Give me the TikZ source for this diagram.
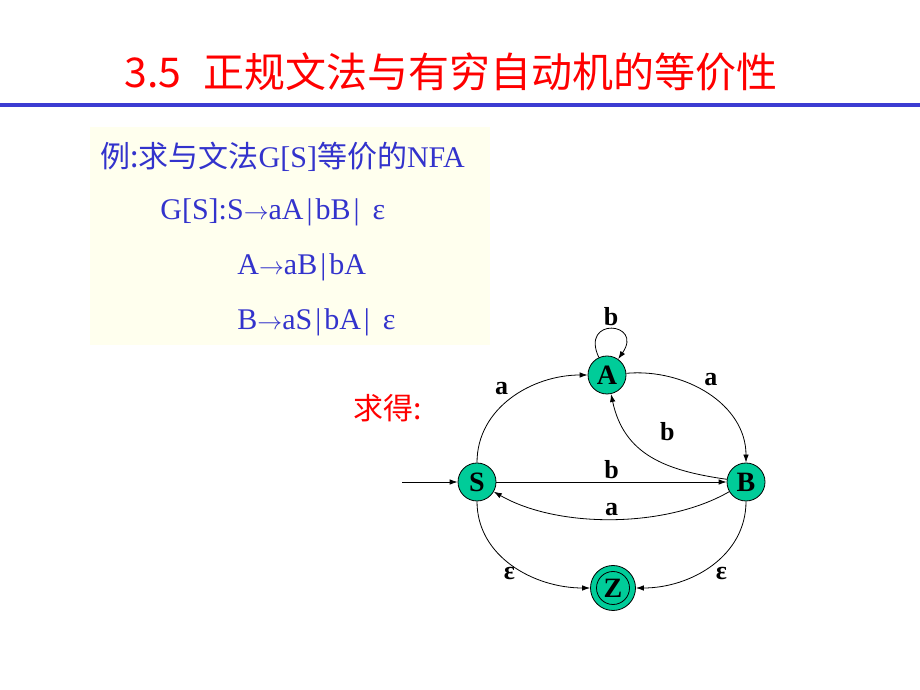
\documentclass[tikz,border=0pt]{standalone}
\usepackage{fontspec}
\setmainfont{Liberation Serif}
\newfontfamily\cjk{Noto Sans CJK SC}
\usetikzlibrary{arrows.meta}
\definecolor{titlered}{RGB}{255,0,0}
\definecolor{textblue}{RGB}{51,51,204}
\definecolor{statefill}{RGB}{0,204,153}
\definecolor{boxyellow}{RGB}{255,255,238}
\definecolor{ruleblue}{RGB}{60,60,210}
\newcommand{\gbar}{\hspace{3pt}|\hspace{3pt}}

\begin{document}
\begin{tikzpicture}[x=1pt,y=1pt,line width=0.8pt,
    >={Latex[length=8pt,width=5.5pt]},
    state/.style={circle,draw,fill=statefill,minimum size=38pt,inner sep=0pt,
      font=\fontsize{28}{28}\selectfont\bfseries},
    lbl/.style={font=\fontsize{26}{26}\selectfont\bfseries,inner sep=3pt},
    gram/.style={anchor=base west,inner sep=0pt,text=textblue,
      font=\fontsize{30}{30}\selectfont}]
    \useasboundingbox (0,0) rectangle (920,690);
    % title and rule
    \node[anchor=west,inner sep=0pt,text=titlered,font=\fontsize{41}{41}\selectfont\cjk]
      (title) at (124,618) {3.5\hspace{22pt}正规文法与有穷自动机的等价性};
    \draw[ruleblue,line width=3.5pt] (0,585) -- (920,585);
    % grammar
    \fill[boxyellow] (90,345) rectangle (490,563);
    \node[gram] (question) at (100,522) {{\cjk 例:求与文法}G[S]{\cjk 等价的}NFA};
    \node[gram] (rule1) at (160,470) {G[S]:S$\rightarrow$aA\gbar bB\gbar\hspace{10pt}ε};
    \node[gram] (rule2) at (237,415) {A$\rightarrow$aB\gbar bA};
    \node[gram] (rule3) at (237,360) {B$\rightarrow$aS\gbar bA\gbar\hspace{10pt}ε};
    \node[anchor=west,inner sep=0pt,text=titlered,font=\fontsize{30}{30}\selectfont\cjk]
      (answer) at (353,282) {求得:};
    % automaton
    \node[state] (S) at (477,208) {S};
    \node[state] (A) at (607,315) {A};
    \node[state] (B) at (746,208) {B};
    \node[state,minimum size=45pt] (Z) at (613,102) {Z};
    \draw (Z.center) circle[radius=16.5pt];
    \coordinate (start) at (402,208);
    \draw[->] (start) -- (S);
    \draw[->] (S) to[out=90,in=180] node[lbl,pos=0.5,above left] {a} (A);
    \draw[->] (A) to[out=5,in=90] node[lbl,pos=0.45,above right] {a} (B);
    \draw[->] (B) to[out=172,in=-78,looseness=1.1] node[lbl,pos=0.45,above right,yshift=16pt] {b} (A);
    \draw[->] (A) to[out=115,in=55,looseness=6] node[lbl,above] {b} (A);
    \draw[->] (S) -- node[lbl,above] {b} (B);
    \draw[->] (B) to[out=-150,in=-30,looseness=0.8] node[lbl,above] {a} (S);
    \draw[->] (S) to[out=-90,in=180] node[lbl,pos=0.6,left=8pt] {ε} (Z);
    \draw[->] (B) to[out=-90,in=0] node[lbl,pos=0.6,right=14pt] {ε} (Z);
\end{tikzpicture}
\end{document}
